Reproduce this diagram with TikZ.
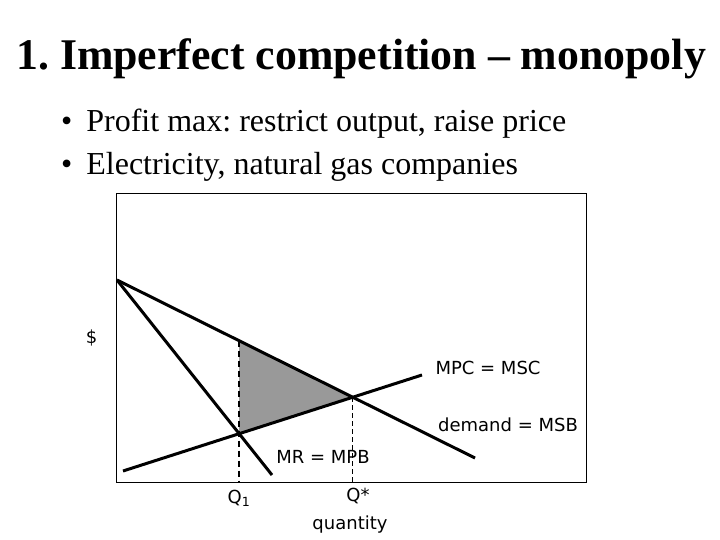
\documentclass[tikz,border=0pt]{standalone}
\usepackage{fontspec}
\setmainfont{Liberation Serif}
\newfontfamily\lblfont{DejaVu Sans}
\frenchspacing
\begin{document}
\begin{tikzpicture}[x=1pt,y=-1pt,
  curve/.style={line width=3pt},
  lbl/.style={font=\lblfont\fontsize{18}{20}\selectfont, inner sep=0pt},
  bul/.style={font=\fontsize{32}{35}\selectfont, inner sep=0pt, anchor=base west}]
\useasboundingbox (0,0) rectangle (720,540);
% title and bullets
\node[font=\bfseries\fontsize{43.8}{48}\selectfont, inner sep=0pt, anchor=base west] (title) at (16,70) {1. Imperfect competition -- monopoly};
\node[bul] (b1) at (61,132) {\textbullet\hspace{14pt}Profit max: restrict output, raise price};
\node[bul] (b2) at (61,175) {\textbullet\hspace{14pt}Electricity, natural gas companies};
% frame
\coordinate (bl) at (116.7,482.3);
\coordinate (tr) at (586.7,193.3);
\draw[line width=1.5pt] (bl) rectangle (tr);
% key points
\coordinate (A) at (117,280);
\coordinate (Dend) at (475,458);
\coordinate (MRend) at (272,475);
\coordinate (Sstart) at (123,471);
\coordinate (Send) at (422,375);
\coordinate (Q1pt) at (239,433.8);
\coordinate (Dq1) at (239,340.7);
\coordinate (E) at (352.8,397.2);
\coordinate (Q1ax) at (239,482.3);
\coordinate (Qsax) at (352.8,482.3);
% shaded area
\fill[fill={rgb,255:red,153;green,153;blue,153}] (Dq1) -- (E) -- (Q1pt) -- cycle;
% dashed guides
\draw[line width=1.6pt, dash pattern=on 6pt off 4pt] (Dq1) -- (Q1ax);
\draw[line width=0.9pt, dash pattern=on 5pt off 3pt] (E) -- (Qsax);
% curves
\draw[curve] (A) -- (Dend);
\draw[curve] (A) -- (MRend);
\draw[curve] (Sstart) -- (Send);
% labels
\node[lbl] (dollar) at (91.7,338) {\$};
\node[lbl] (mpc) at (488,368) {MPC = MSC};
\node[lbl] (dem) at (508,425) {demand = MSB};
\node[lbl] (mr) at (323,457) {MR = MPB};
\node[lbl] (q1) at (239,498) {Q\textsubscript{1}};
\node[lbl] (qs) at (358,496) {Q*};
\node[lbl] (qty) at (350,525) {quantity};
\end{tikzpicture}
\end{document}
